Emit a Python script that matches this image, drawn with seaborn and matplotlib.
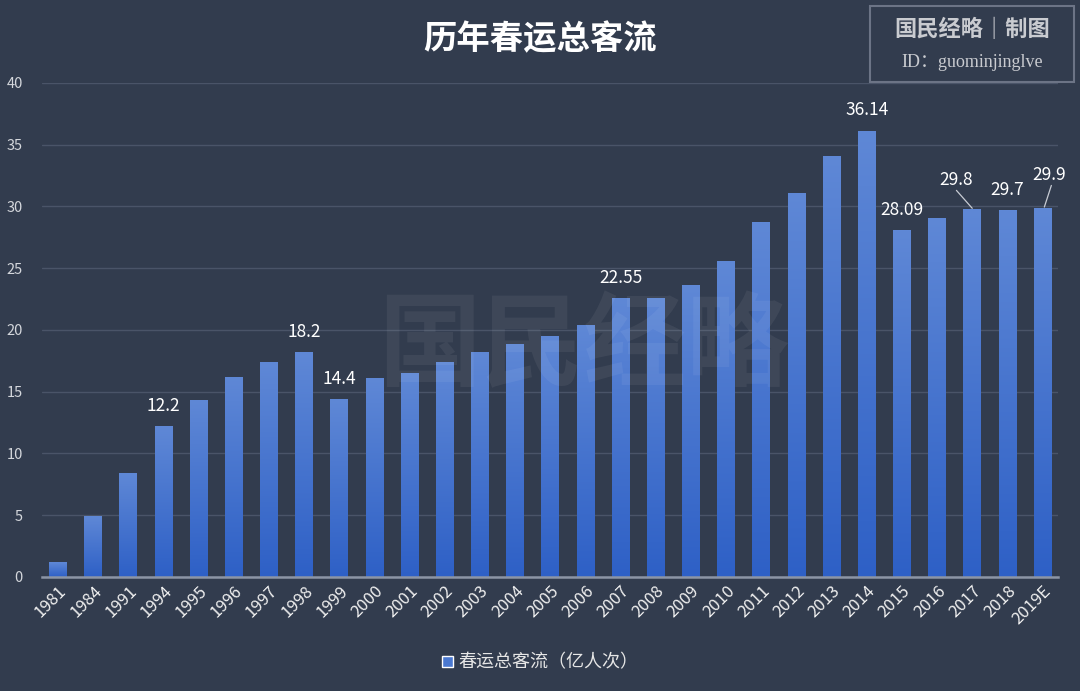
import numpy as np
import pandas as pd
import matplotlib
matplotlib.use("Agg")
import matplotlib.pyplot as plt
import seaborn as sns
from matplotlib.colors import LinearSegmentedColormap
from matplotlib.patches import Rectangle

years = ["1981", "1984", "1991", "1994", "1995", "1996", "1997", "1998", "1999", "2000",
         "2001", "2002", "2003", "2004", "2005", "2006", "2007", "2008", "2009", "2010",
         "2011", "2012", "2013", "2014", "2015", "2016", "2017", "2018", "2019E"]
values = [1.2, 4.9, 8.4, 12.2, 14.3, 16.2, 17.4, 18.2, 14.4, 16.1,
          16.5, 17.4, 18.2, 18.9, 19.5, 20.4, 22.55, 22.6, 23.6, 25.6,
          28.7, 31.1, 34.1, 36.14, 28.09, 29.1, 29.8, 29.7, 29.9]
labelled = {"1994": "12.2", "1998": "18.2", "1999": "14.4", "2007": "22.55",
            "2014": "36.14", "2015": "28.09", "2017": "29.8", "2018": "29.7", "2019E": "29.9"}
series_name = "春运总客流（亿人次）"
title = "历年春运总客流"

BG = "#323c4e"
sns.set_theme(style="dark")
plt.rcParams['font.family'] = ['Noto Sans CJK SC', 'DejaVu Sans']

df = pd.DataFrame({"year": years, "value": values})

fig = plt.figure(figsize=(10.8, 6.91), dpi=100, facecolor=BG)
ax = fig.add_axes([0.039, 0.165, 0.941, 0.715])
ax.set_facecolor(BG)

sns.barplot(data=df, x="year", y="value", ax=ax, width=0.5, color="#4a78d0",
            saturation=1, zorder=3)

# gradient fill on each bar
cmap = LinearSegmentedColormap.from_list("g", ["#2e60c6", "#5f88d6"])
grad = np.linspace(0, 1, 256).reshape(-1, 1)
for p in ax.patches:
    x0, y0 = p.get_x(), p.get_y()
    w, h = p.get_width(), p.get_height()
    im = ax.imshow(grad, cmap=cmap, origin="lower", aspect="auto",
                   extent=[x0, x0 + w, y0, y0 + h], zorder=3)
    im.set_clip_path(p)
    p.set_alpha(0)

ax.set_xlim(-0.45, 28.45)
ax.set_ylim(0, 40)
ax.set_yticks(np.arange(0, 41, 5))
ax.grid(axis="y", color="#4a5468", linewidth=1.0, zorder=0)
ax.grid(axis="x", visible=False)
for s in ["top", "right", "left"]:
    ax.spines[s].set_visible(False)
ax.spines["bottom"].set_color("#8c95a5")
ax.spines["bottom"].set_linewidth(1.8)
ax.spines["bottom"].set_zorder(4)
ax.set_xlabel("")
ax.set_ylabel("")
ax.tick_params(axis="y", colors="#d4d7dc", labelsize=10.5, length=0, pad=14)
ax.tick_params(axis="x", colors="#f0f0f0", labelsize=12, length=0, pad=4)
plt.setp(ax.get_xticklabels(), rotation=45, ha="right", rotation_mode="anchor")

# value labels
offsets = {"2017": (-0.45, 1.6), "2019E": (0.2, 1.9)}
for i, (yr, v) in enumerate(zip(years, values)):
    if yr in labelled:
        if yr in offsets:
            dx, dy = offsets[yr]
            ax.text(i + dx, v + dy, labelled[yr], ha="center", va="bottom",
                    color="white", fontsize=12.5, zorder=5)
            ax.plot([i + dx + (0.05 if yr == "2019E" else 0.0), i + (0.05 if yr == "2019E" else 0.0)],
                    [v + dy - 0.1, v + 0.05], color="#c8ccd4", linewidth=0.9, zorder=5)
        else:
            ax.text(i, v + 0.9, labelled[yr], ha="center", va="bottom",
                    color="white", fontsize=12.5, zorder=5)

# watermark
fig.text(0.54, 0.497, "国民经略", ha="center", va="center", fontsize=74,
         color="#ffffff", alpha=0.06, fontweight="bold", zorder=0)

# title
fig.text(0.5, 0.942, title, ha="center", va="center", fontsize=24,
         color="white", fontweight="bold")

# logo box
fig.patches.append(Rectangle((0.806, 0.882), 0.188, 0.11, transform=fig.transFigure,
                             fill=False, edgecolor="#6c7486", linewidth=1.5))
fig.text(0.9, 0.958, "国民经略｜制图", ha="center", va="center", fontsize=16,
         color="#c9cbd0", fontweight="bold")
fig.text(0.9, 0.91, "ID：guominjinglve", ha="center", va="center", fontsize=13,
         color="#c9cbd0", family=["Liberation Serif", "Noto Sans CJK SC"])

# legend
handle = Rectangle((0, 0), 1, 1, facecolor="#4a78d0")
fig.legend([handle], [series_name], loc="center", bbox_to_anchor=(0.5, 0.041),
           frameon=False, fontsize=13, labelcolor="#e6e6e6",
           handlelength=0.6, handleheight=0.6, handletextpad=0.3)

fig.savefig("out.png", dpi=100, facecolor=BG)
